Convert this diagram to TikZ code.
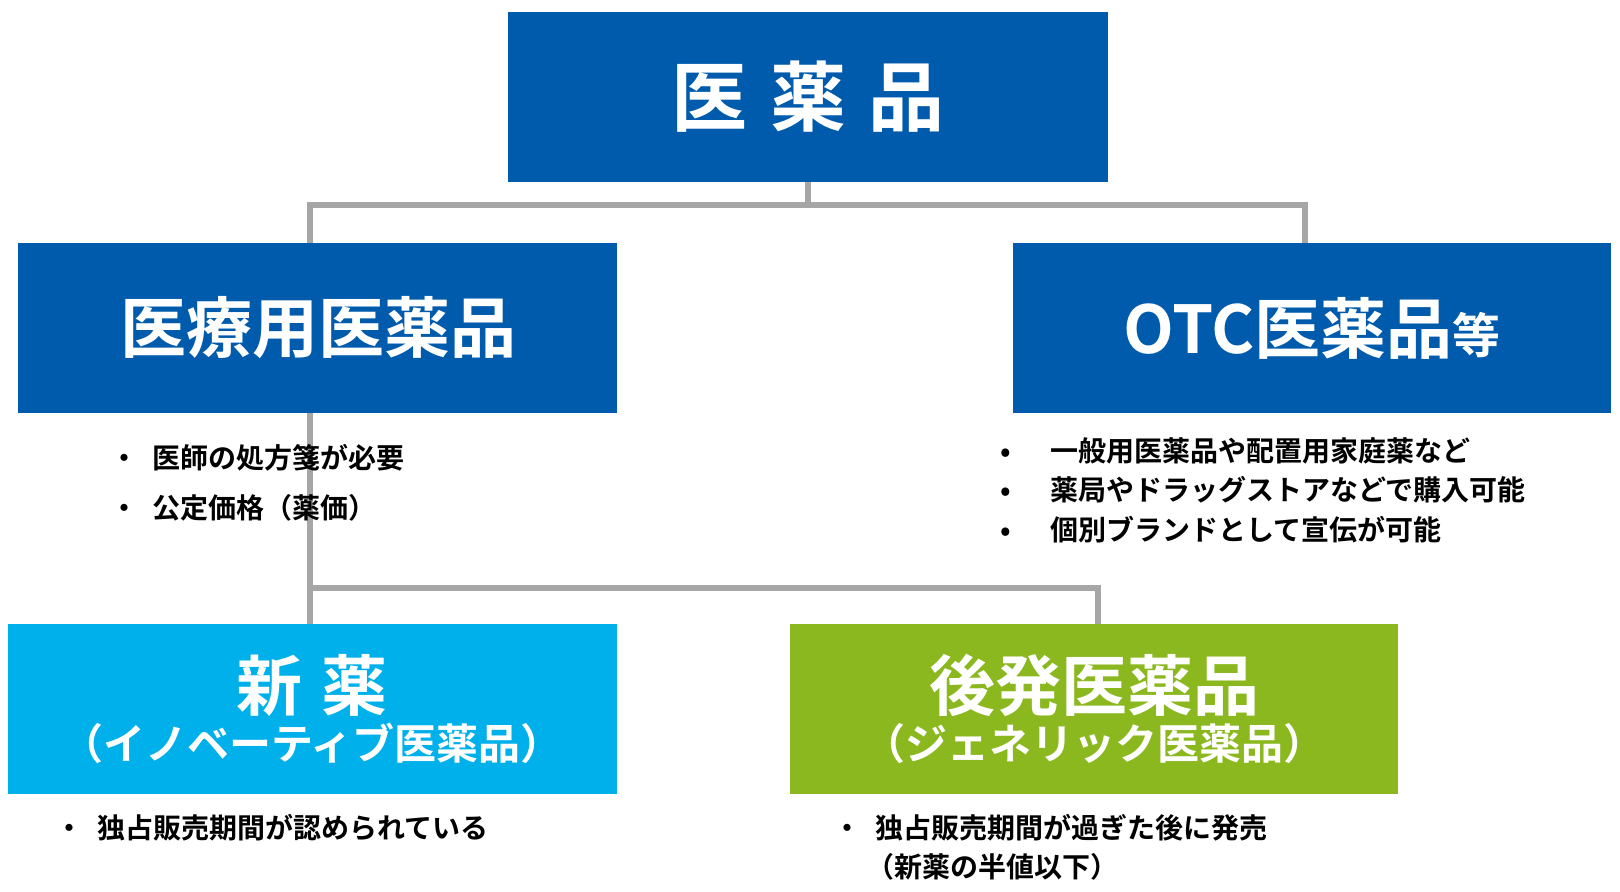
\documentclass[tikz,border=0pt]{standalone}
\usepackage{fontspec}
\setmainfont{Noto Sans CJK JP}[BoldFont={Noto Sans CJK JP Bold}]
\definecolor{navy}{HTML}{005BAC}
\definecolor{cyanb}{HTML}{00B0EA}
\definecolor{greenb}{HTML}{8AB81E}
\definecolor{conn}{HTML}{A6A6A6}
\begin{document}
\begin{tikzpicture}[x=0.5pt,y=-0.5pt,
  box/.style={draw=none,text=white,font=\bfseries,align=center,inner sep=0},
  link/.style={conn,line width=3pt},
  txt/.style={anchor=west,font=\bfseries\fontsize{14}{19}\selectfont,inner sep=0}]
\useasboundingbox (0,0) rectangle (1620,891);
\fill[navy] (508,12) rectangle (1108,182);
\node[box,font=\bfseries\fontsize{38}{40}\selectfont] (top) at (808,97) {医\hspace{0.3em}薬\hspace{0.3em}品};
\coordinate (topb) at (808,182);
\fill[navy] (18,243) rectangle (617,413);
\node[box,font=\bfseries\fontsize{33}{36}\selectfont] (iryo) at (318,328) {医療用医薬品};
\fill[navy] (1013,243) rectangle (1611,413);
\node[box] (otc) at (1312,328) {\fontsize{33}{36}\selectfont OTC医薬品\fontsize{24}{26}\selectfont 等};
\fill[cyanb] (8,624) rectangle (617,794);
\node[box,align=center] (new) at (312,709) {\fontsize{33}{38}\selectfont 新\hspace{0.3em}薬\\[2pt]\fontsize{21}{24}\selectfont （イノベーティブ医薬品）};
\fill[greenb] (790,624) rectangle (1398,794);
\node[box,align=center] (gen) at (1094,709) {\fontsize{33}{38}\selectfont 後発医薬品\\[2pt]\fontsize{21}{24}\selectfont （ジェネリック医薬品）};
\draw[link] (808,182) -- (808,205) (310,243) |- (1305,205) -- (1305,243);
\draw[link] (310,413) -- (310,588) (310,624) |- (1098,588) -- (1098,624);
\node[txt] (b1) at (110,458) {・\hspace{0.5em}医師の処方箋が必要};
\node[txt] (b2) at (110,508) {・\hspace{0.5em}公定価格（薬価）};
\node[txt] (c1) at (1000,451) {•\hspace{1.4em}一般用医薬品や配置用家庭薬など};
\node[txt] (c2) at (1000,490) {•\hspace{1.4em}薬局やドラッグストアなどで購入可能};
\node[txt] (c3) at (1000,530) {•\hspace{1.4em}個別ブランドとして宣伝が可能};
\node[txt] (d1) at (55,828) {・\hspace{0.5em}独占販売期間が認められている};
\node[txt] (e1) at (833,828) {・\hspace{0.5em}独占販売期間が過ぎた後に発売};
\node[txt] (e2) at (866,867) {（新薬の半値以下）};
\end{tikzpicture}
\end{document}
